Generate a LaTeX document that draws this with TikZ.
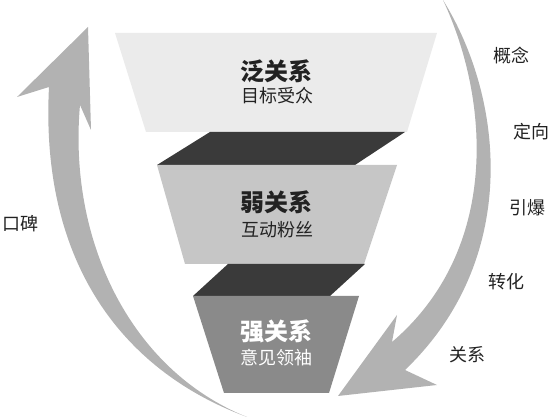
\documentclass[tikz,border=0pt]{standalone}
\usepackage{fontspec}
\setmainfont{Noto Sans CJK SC}
\usepackage{xcolor}
\usepackage{tikz}
\usetikzlibrary{calc}

\definecolor{funnelA}{HTML}{EBEBEB}
\definecolor{funnelB}{HTML}{C6C6C6}
\definecolor{funnelC}{HTML}{8A8A8A}
\definecolor{funnelDark}{HTML}{3A3A3A}
\definecolor{cycleArrow}{HTML}{B2B2B2}
\definecolor{inkDark}{HTML}{222222}

\tikzset{
    levelTitle/.style={align=center, inner sep=0pt, font=\fontsize{24}{26}\selectfont\bfseries},
    levelSub/.style={align=center, inner sep=0pt, font=\fontsize{18}{20}\selectfont},
    stageText/.style={inner sep=0pt, text=inkDark, font=\fontsize{18}{20}\selectfont}
}

\begin{document}
\begin{tikzpicture}[x=1pt, y=-1pt]
    %\draw[step=50, gray, very thin] (0, 0) grid (550, 419);
    \useasboundingbox (0, 0) rectangle (550, 419);

    \fill[cycleArrow] (247, 417) .. controls (120, 370) and (40, 260) .. (49, 87)
        -- (17, 97) -- (88, 27) -- (91, 130) -- (80, 105)
        .. controls (68, 240) and (130, 370) .. (247, 417) -- cycle;
    \fill[cycleArrow] (443, 0) .. controls (505, 100) and (520, 260) .. (405, 370)
        -- (437, 385) -- (338, 396) -- (397, 315) -- (392, 342)
        .. controls (500, 250) and (490, 100) .. (443, 0) -- cycle;

    \fill[funnelA] (115, 33) -- (437, 33) -- (407, 132) -- (146, 132) -- cycle;
    \fill[funnelDark] (210, 132) -- (405, 132) -- (355, 165) -- (157, 165) -- cycle;
    \fill[funnelB] (157, 165) -- (397, 165) -- (364, 264) -- (185, 264) -- cycle;
    \fill[funnelDark] (228, 264) -- (365, 264) -- (330, 296) -- (193, 296) -- cycle;
    \fill[funnelC] (193, 296) -- (359, 296) -- (329, 393) -- (224, 393) -- cycle;

    \node[levelTitle, text=inkDark] (fanTitle) at (276, 71) {泛关系};
    \node[levelSub, text=inkDark] (fanSub) at (277, 96) {目标受众};
    \node[levelTitle, text=inkDark] (ruoTitle) at (276, 202) {弱关系};
    \node[levelSub, text=inkDark] (ruoSub) at (277, 230) {互动粉丝};
    \node[levelTitle, text=white] (qiangTitle) at (276, 331) {强关系};
    \node[levelSub, text=white] (qiangSub) at (276, 358) {意见领袖};

    \node[stageText] (gainian) at (511, 56) {概念};
    \node[stageText] (dingxiang) at (531, 132) {定向};
    \node[stageText] (yinbao) at (527, 208) {引爆};
    \node[stageText] (zhuanhua) at (506, 282) {转化};
    \node[stageText] (guanxi) at (467, 355) {关系};
    \node[stageText] (koubei) at (20, 224) {口碑};

\end{tikzpicture}
\end{document}
